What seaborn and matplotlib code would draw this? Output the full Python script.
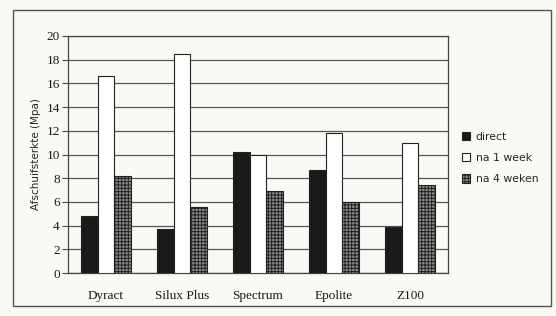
import matplotlib
matplotlib.use('Agg')
import matplotlib.pyplot as plt
from matplotlib.patches import Patch, Rectangle
from matplotlib.ticker import FixedLocator
import pandas as pd
import seaborn as sns

# values (MPa)
materials = ['Dyract', 'Silux Plus', 'Spectrum', 'Epolite', 'Z100']
series = ['direct', 'na 1 week', 'na 4 weken']
direct = [4.85, 3.7, 10.2, 8.7, 3.9]
week_1 = [16.6, 18.45, 9.95, 11.85, 11.0]
weeks_4 = [8.15, 5.6, 6.95, 6.0, 7.45]

df = pd.DataFrame({
    'material': materials * 3,
    'moment': [s for s in series for _ in materials],
    'value': direct + week_1 + weeks_4,
})

sns.set_style('white')
plt.rcParams['hatch.linewidth'] = 0.7

bg = '#f9f9f5'
fig = plt.figure(figsize=(5.56, 3.16), dpi=100, facecolor=bg)
fig.patches.append(Rectangle((13 / 556, 10 / 316), 538 / 556, 296 / 316,
                             transform=fig.transFigure, fill=False,
                             edgecolor='#555555', linewidth=1.0))
ax = fig.add_axes([68 / 556, 43 / 316, 380 / 556, 237 / 316])
ax.set_facecolor(bg)

colors = {'direct': '#1a1a1a', 'na 1 week': '#ffffff', 'na 4 weken': '#8a8a8a'}
sns.barplot(data=df, x='material', y='value', hue='moment', order=materials,
            hue_order=series, palette=colors, width=0.67, gap=0,
            edgecolor='#222222', linewidth=0.8, saturation=1, ax=ax, legend=False,
            zorder=3)
for bar in ax.containers[2]:
    bar.set_hatch('+++++')
    bar.set_edgecolor('#222222')

ax.set_ylim(0, 20)
ax.set_xlim(-0.5, 4.5)
ax.set_yticks(range(0, 21, 2))
ax.grid(axis='y', color='#555555', linewidth=0.9, zorder=0)
ax.set_axisbelow(True)
for sp in ax.spines.values():
    sp.set_color('#444444')
    sp.set_linewidth(0.9)

ax.set_xlabel('')
ax.set_ylabel('Afschuifsterkte (Mpa)', fontsize=7.5, family='DejaVu Sans', labelpad=4)
ax.tick_params(axis='x', which='major', length=0, pad=12)
ax.xaxis.set_minor_locator(FixedLocator([0.5, 1.5, 2.5, 3.5]))
ax.tick_params(axis='x', which='minor', length=4, direction='out', color='#444444')
ax.tick_params(axis='y', length=4, direction='out', color='#444444', pad=2,
               left=True)
for lbl in ax.get_xticklabels() + ax.get_yticklabels():
    lbl.set_family('Liberation Serif')
    lbl.set_fontsize(9.5)
    lbl.set_color('#1a1a1a')

handles = [Patch(facecolor=colors[s], edgecolor='#222222', linewidth=0.8,
                 hatch='+++++' if s == 'na 4 weken' else None) for s in series]
leg = ax.legend(handles, series, loc='upper left', bbox_to_anchor=(1.01, 0.638),
                frameon=False, handlelength=0.8, handleheight=0.8,
                handletextpad=0.5, labelspacing=1.05,
                prop={'family': 'DejaVu Sans', 'size': 7.8})

fig.savefig('out.png', dpi=100, facecolor=bg)
